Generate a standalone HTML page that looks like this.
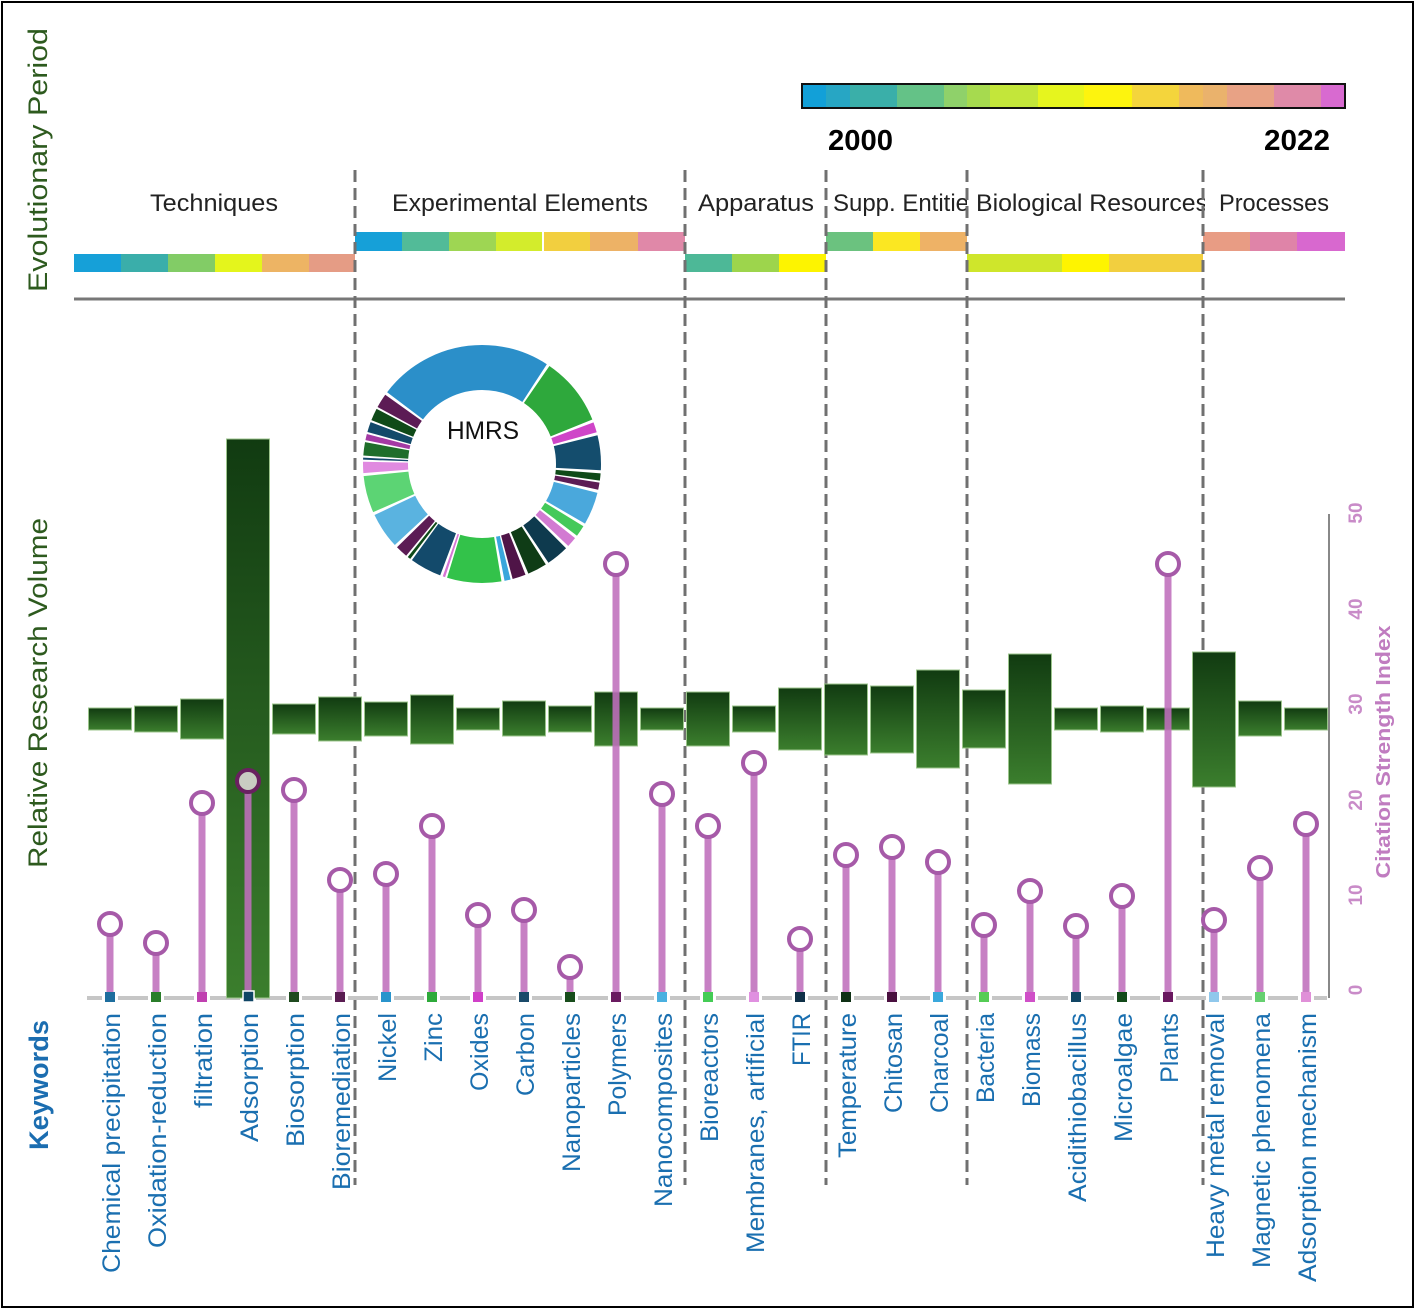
<!DOCTYPE html>
<html><head><meta charset="utf-8"><style>
html,body{margin:0;padding:0;background:#fff;}
svg{display:block;}
text{font-family:"Liberation Sans",sans-serif;}
</style></head><body>
<svg width="1416" height="1310" viewBox="0 0 1416 1310" xmlns="http://www.w3.org/2000/svg">
<defs>
<linearGradient id="gb" x1="0" y1="0" x2="0" y2="1">
<stop offset="0" stop-color="#113b11"/><stop offset="1" stop-color="#3b7e2d"/>
</linearGradient>
<clipPath id="c1"><rect x="826" y="180" width="141" height="40"/></clipPath>
<clipPath id="c2"><rect x="967" y="180" width="238" height="40"/></clipPath>
</defs>
<rect x="0" y="0" width="1416" height="1310" fill="#fff"/>
<rect x="2" y="2" width="1411" height="1305" fill="none" stroke="#000" stroke-width="2"/>

<!-- color bar -->
<g>
<rect x="802" y="84" width="24" height="24" fill="#12a0d8"/>
<rect x="826" y="84" width="24" height="24" fill="#27a6c4"/>
<rect x="850" y="84" width="47" height="24" fill="#3aafa9"/>
<rect x="897" y="84" width="47" height="24" fill="#64c287"/>
<rect x="944" y="84" width="23" height="24" fill="#8fd16a"/>
<rect x="967" y="84" width="23" height="24" fill="#a6da4f"/>
<rect x="990" y="84" width="48" height="24" fill="#c3e63a"/>
<rect x="1038" y="84" width="46" height="24" fill="#e6f51e"/>
<rect x="1084" y="84" width="48" height="24" fill="#fdf40e"/>
<rect x="1132" y="84" width="47" height="24" fill="#f4d53c"/>
<rect x="1179" y="84" width="24" height="24" fill="#efba5c"/>
<rect x="1203" y="84" width="24" height="24" fill="#eab26c"/>
<rect x="1227" y="84" width="47" height="24" fill="#e8a285"/>
<rect x="1274" y="84" width="47" height="24" fill="#df8aa8"/>
<rect x="1321" y="84" width="24" height="24" fill="#d86ad0"/>
<rect x="802" y="84" width="543" height="24" fill="none" stroke="#111" stroke-width="2"/>
</g>
<text x="828" y="150" font-size="29" font-weight="bold" fill="#000" textLength="65" lengthAdjust="spacingAndGlyphs">2000</text>
<text x="1264" y="150" font-size="29" font-weight="bold" fill="#000" textLength="66" lengthAdjust="spacingAndGlyphs">2022</text>

<!-- left titles -->
<text transform="translate(47,160) rotate(-90)" text-anchor="middle" font-size="27" fill="#2d5a1e" textLength="264" lengthAdjust="spacingAndGlyphs">Evolutionary Period</text>
<text transform="translate(47,693) rotate(-90)" text-anchor="middle" font-size="27" fill="#2d5a1e" textLength="350" lengthAdjust="spacingAndGlyphs">Relative Research Volume</text>
<text transform="translate(48,1085) rotate(-90)" text-anchor="middle" font-size="27" font-weight="bold" fill="#1b6db0" textLength="130" lengthAdjust="spacingAndGlyphs">Keywords</text>

<!-- category headers -->
<g font-size="24" fill="#222">
<text x="150" y="211" textLength="128" lengthAdjust="spacingAndGlyphs">Techniques</text>
<text x="392" y="211" textLength="256" lengthAdjust="spacingAndGlyphs">Experimental Elements</text>
<text x="698" y="211" textLength="116" lengthAdjust="spacingAndGlyphs">Apparatus</text>
<text x="833" y="211" textLength="148" lengthAdjust="spacingAndGlyphs" clip-path="url(#c1)">Supp. Entities</text>
<text x="976" y="211" textLength="232" lengthAdjust="spacingAndGlyphs" clip-path="url(#c2)">Biological Resources</text>
<text x="1219" y="211" textLength="110" lengthAdjust="spacingAndGlyphs">Processes</text>
</g>

<!-- strips -->
<g>
<rect x="74" y="254" width="47" height="18" fill="#16a0d8"/>
<rect x="121" y="254" width="47" height="18" fill="#3aaeaa"/>
<rect x="168" y="254" width="47" height="18" fill="#82cc66"/>
<rect x="215" y="254" width="47" height="18" fill="#e4f51c"/>
<rect x="262" y="254" width="47" height="18" fill="#edb464"/>
<rect x="309" y="254" width="46" height="18" fill="#e59c85"/>

<rect x="355" y="232" width="47" height="19" fill="#16a0d8"/>
<rect x="402" y="232" width="47" height="19" fill="#52bb98"/>
<rect x="449" y="232" width="47" height="19" fill="#9ed653"/>
<rect x="496" y="232" width="46" height="19" fill="#d3ec2c"/>
<rect x="544" y="232" width="46" height="19" fill="#f2cf3f"/>
<rect x="590" y="232" width="48" height="19" fill="#edb266"/>
<rect x="638" y="232" width="47" height="19" fill="#e088a8"/>

<rect x="685" y="254" width="47" height="18" fill="#4db897"/>
<rect x="732" y="254" width="47" height="18" fill="#9dd54c"/>
<rect x="779" y="254" width="47" height="18" fill="#fdf400"/>

<rect x="826" y="232" width="47" height="19" fill="#6bc27f"/>
<rect x="873" y="232" width="47" height="19" fill="#fbe722"/>
<rect x="920" y="232" width="47" height="19" fill="#eeb266"/>

<rect x="967" y="254" width="95" height="18" fill="#cfe62b"/>
<rect x="1062" y="254" width="47" height="18" fill="#fef400"/>
<rect x="1109" y="254" width="94" height="18" fill="#f2cf3f"/>

<rect x="1203" y="232" width="47" height="19" fill="#e89c84"/>
<rect x="1250" y="232" width="47" height="19" fill="#df84a8"/>
<rect x="1297" y="232" width="48" height="19" fill="#d868cf"/>
</g>

<line x1="74" y1="299" x2="1345" y2="299" stroke="#777" stroke-width="3"/>

<!-- dashed separators -->
<g stroke="#707070" stroke-width="3" stroke-dasharray="12 6">
<line x1="355" y1="170" x2="355" y2="1185"/>
<line x1="685" y1="170" x2="685" y2="1185"/>
<line x1="826" y1="170" x2="826" y2="1185"/>
<line x1="967" y1="170" x2="967" y2="1185"/>
<line x1="1203" y1="170" x2="1203" y2="1185"/>
</g>

<!-- donut -->
<g transform="rotate(-90 482 464)" fill="none" stroke-width="45">
<circle cx="482" cy="464" r="96.5" stroke="#2b8fc9" stroke-dasharray="144.85 461.48" stroke-dashoffset="-517.06"/>
<circle cx="482" cy="464" r="96.5" stroke="#2ea83c" stroke-dasharray="56.42 549.91" stroke-dashoffset="-58.11"/>
<circle cx="482" cy="464" r="96.5" stroke="#cf45c8" stroke-dasharray="8.42 597.91" stroke-dashoffset="-117.06"/>
<circle cx="482" cy="464" r="96.5" stroke="#144d6d" stroke-dasharray="28.63 577.7" stroke-dashoffset="-128"/>
<circle cx="482" cy="464" r="96.5" stroke="#0f4a18" stroke-dasharray="5.89 600.44" stroke-dashoffset="-159.16"/>
<circle cx="482" cy="464" r="96.5" stroke="#5c1c55" stroke-dasharray="5.89 600.44" stroke-dashoffset="-166.74"/>
<circle cx="482" cy="464" r="96.5" stroke="#4aa8dc" stroke-dasharray="26.95 579.38" stroke-dashoffset="-175.16"/>
<circle cx="482" cy="464" r="96.5" stroke="#44c95a" stroke-dasharray="9.26 597.07" stroke-dashoffset="-204.64"/>
<circle cx="482" cy="464" r="96.5" stroke="#d27ad2" stroke-dasharray="8.42 597.91" stroke-dashoffset="-216.43"/>
<circle cx="482" cy="464" r="96.5" stroke="#0e3a4e" stroke-dasharray="18.53 587.8" stroke-dashoffset="-227.37"/>
<circle cx="482" cy="464" r="96.5" stroke="#0f3c16" stroke-dasharray="16 590.33" stroke-dashoffset="-248.43"/>
<circle cx="482" cy="464" r="96.5" stroke="#4f1447" stroke-dasharray="10.95 595.38" stroke-dashoffset="-266.95"/>
<circle cx="482" cy="464" r="96.5" stroke="#3aa6dc" stroke-dasharray="5.05 601.28" stroke-dashoffset="-279.59"/>
<circle cx="482" cy="464" r="96.5" stroke="#33c24a" stroke-dasharray="44.63 561.7" stroke-dashoffset="-287.17"/>
<circle cx="482" cy="464" r="96.5" stroke="#d474d4" stroke-dasharray="2.02 604.31" stroke-dashoffset="-333.48"/>
<circle cx="482" cy="464" r="96.5" stroke="#134a6b" stroke-dasharray="26.11 580.22" stroke-dashoffset="-337.69"/>
<circle cx="482" cy="464" r="96.5" stroke="#0f4a18" stroke-dasharray="2.53 603.8" stroke-dashoffset="-365.48"/>
<circle cx="482" cy="464" r="96.5" stroke="#5c1c55" stroke-dasharray="10.11 596.22" stroke-dashoffset="-369.69"/>
<circle cx="482" cy="464" r="96.5" stroke="#5ab3e0" stroke-dasharray="29.47 576.86" stroke-dashoffset="-382.32"/>
<circle cx="482" cy="464" r="96.5" stroke="#5cd474" stroke-dasharray="30.32 576.01" stroke-dashoffset="-414.33"/>
<circle cx="482" cy="464" r="96.5" stroke="#e08ae0" stroke-dasharray="9.26 597.07" stroke-dashoffset="-447.17"/>
<circle cx="482" cy="464" r="96.5" stroke="#14486a" stroke-dasharray="1.68 604.65" stroke-dashoffset="-458.12"/>
<circle cx="482" cy="464" r="96.5" stroke="#1f6e2a" stroke-dasharray="10.95 595.38" stroke-dashoffset="-461.48"/>
<circle cx="482" cy="464" r="96.5" stroke="#a43aa4" stroke-dasharray="5.05 601.28" stroke-dashoffset="-474.12"/>
<circle cx="482" cy="464" r="96.5" stroke="#134a6a" stroke-dasharray="8.42 597.91" stroke-dashoffset="-480.85"/>
<circle cx="482" cy="464" r="96.5" stroke="#0f4a18" stroke-dasharray="10.11 596.22" stroke-dashoffset="-490.96"/>
<circle cx="482" cy="464" r="96.5" stroke="#5c1c55" stroke-dasharray="11.79 594.54" stroke-dashoffset="-502.75"/>
</g>
<text x="483" y="439" text-anchor="middle" font-size="25" fill="#111" textLength="72" lengthAdjust="spacingAndGlyphs">HMRS</text>

<!-- baseline -->
<line x1="87" y1="998" x2="1327" y2="998" stroke="#c6c6c6" stroke-width="4" stroke-dasharray="30 16" stroke-dashoffset="15"/>

<!-- bars -->
<g fill="url(#gb)" stroke="#9cc58c" stroke-width="1">
<rect x="88.5" y="708" width="43" height="22"/>
<rect x="134.5" y="706" width="43" height="26"/>
<rect x="180.5" y="699" width="43" height="40"/>
<rect x="226.5" y="439" width="43" height="559"/>
<rect x="272.5" y="704" width="43" height="30"/>
<rect x="318.5" y="697" width="43" height="44"/>
<rect x="364.5" y="702" width="43" height="34"/>
<rect x="410.5" y="695" width="43" height="49"/>
<rect x="456.5" y="708" width="43" height="22"/>
<rect x="502.5" y="701" width="43" height="35"/>
<rect x="548.5" y="706" width="43" height="26"/>
<rect x="594.5" y="692" width="43" height="54"/>
<rect x="640.5" y="708" width="43" height="22"/>
<rect x="686.5" y="692" width="43" height="54"/>
<rect x="732.5" y="706" width="43" height="26"/>
<rect x="778.5" y="688" width="43" height="62"/>
<rect x="824.5" y="684" width="43" height="71"/>
<rect x="870.5" y="686" width="43" height="67"/>
<rect x="916.5" y="670" width="43" height="98"/>
<rect x="962.5" y="690" width="43" height="58"/>
<rect x="1008.5" y="654" width="43" height="130"/>
<rect x="1054.5" y="708" width="43" height="22"/>
<rect x="1100.5" y="706" width="43" height="26"/>
<rect x="1146.5" y="708" width="43" height="22"/>
<rect x="1192.5" y="652" width="43" height="135"/>
<rect x="1238.5" y="701" width="43" height="35"/>
<rect x="1284.5" y="708" width="43" height="22"/>
</g>

<!-- lollipop stems -->
<g stroke="#c06fbd" stroke-width="7" opacity="0.88">
<line x1="110" y1="994" x2="110" y2="924"/>
<line x1="156" y1="994" x2="156" y2="943"/>
<line x1="202" y1="994" x2="202" y2="803"/>
<line x1="248" y1="994" x2="248" y2="781"/>
<line x1="294" y1="994" x2="294" y2="790"/>
<line x1="340" y1="994" x2="340" y2="880"/>
<line x1="386" y1="994" x2="386" y2="874"/>
<line x1="432" y1="994" x2="432" y2="826"/>
<line x1="478" y1="994" x2="478" y2="915"/>
<line x1="524" y1="994" x2="524" y2="910"/>
<line x1="570" y1="994" x2="570" y2="967"/>
<line x1="616" y1="994" x2="616" y2="564"/>
<line x1="662" y1="994" x2="662" y2="794"/>
<line x1="708" y1="994" x2="708" y2="826"/>
<line x1="754" y1="994" x2="754" y2="763"/>
<line x1="800" y1="994" x2="800" y2="939"/>
<line x1="846" y1="994" x2="846" y2="855"/>
<line x1="892" y1="994" x2="892" y2="847"/>
<line x1="938" y1="994" x2="938" y2="862"/>
<line x1="984" y1="994" x2="984" y2="925"/>
<line x1="1030" y1="994" x2="1030" y2="891"/>
<line x1="1076" y1="994" x2="1076" y2="926"/>
<line x1="1122" y1="994" x2="1122" y2="896"/>
<line x1="1168" y1="994" x2="1168" y2="564"/>
<line x1="1214" y1="994" x2="1214" y2="920"/>
<line x1="1260" y1="994" x2="1260" y2="868"/>
<line x1="1306" y1="994" x2="1306" y2="824"/>
</g>
<g fill="#fff" stroke="#a65aa8" stroke-width="4">
<circle cx="110" cy="924" r="11"/>
<circle cx="156" cy="943" r="11"/>
<circle cx="202" cy="803" r="11"/>
<circle cx="248" cy="781" r="11" fill="#c9ccc2" stroke="#6a2060"/>
<circle cx="294" cy="790" r="11"/>
<circle cx="340" cy="880" r="11"/>
<circle cx="386" cy="874" r="11"/>
<circle cx="432" cy="826" r="11"/>
<circle cx="478" cy="915" r="11"/>
<circle cx="524" cy="910" r="11"/>
<circle cx="570" cy="967" r="11"/>
<circle cx="616" cy="564" r="11"/>
<circle cx="662" cy="794" r="11"/>
<circle cx="708" cy="826" r="11"/>
<circle cx="754" cy="763" r="11"/>
<circle cx="800" cy="939" r="11"/>
<circle cx="846" cy="855" r="11"/>
<circle cx="892" cy="847" r="11"/>
<circle cx="938" cy="862" r="11"/>
<circle cx="984" cy="925" r="11"/>
<circle cx="1030" cy="891" r="11"/>
<circle cx="1076" cy="926" r="11"/>
<circle cx="1122" cy="896" r="11"/>
<circle cx="1168" cy="564" r="11"/>
<circle cx="1214" cy="920" r="11"/>
<circle cx="1260" cy="868" r="11"/>
<circle cx="1306" cy="824" r="11"/>
</g>

<!-- markers -->
<g>
<rect x="105" y="992" width="10" height="10" fill="#1e6e9e"/>
<rect x="151" y="992" width="10" height="10" fill="#2a7d2a"/>
<rect x="197" y="992" width="10" height="10" fill="#c040b0"/>
<rect x="243" y="991" width="11" height="11" fill="#0f4565" stroke="#fff" stroke-width="1.5"/>
<rect x="289" y="992" width="10" height="10" fill="#1f4a1f"/>
<rect x="335" y="992" width="10" height="10" fill="#5a1d52"/>
<rect x="381" y="992" width="10" height="10" fill="#2a94cc"/>
<rect x="427" y="992" width="10" height="10" fill="#2eaa3a"/>
<rect x="473" y="992" width="10" height="10" fill="#d040c8"/>
<rect x="519" y="992" width="10" height="10" fill="#1a4a6a"/>
<rect x="565" y="992" width="10" height="10" fill="#184d1c"/>
<rect x="611" y="992" width="10" height="10" fill="#6a1a60"/>
<rect x="657" y="992" width="10" height="10" fill="#4ab0e0"/>
<rect x="703" y="992" width="10" height="10" fill="#44cc55"/>
<rect x="749" y="992" width="10" height="10" fill="#e090e0"/>
<rect x="795" y="992" width="10" height="10" fill="#0f3048"/>
<rect x="841" y="992" width="10" height="10" fill="#0f3015"/>
<rect x="887" y="992" width="10" height="10" fill="#4a1040"/>
<rect x="933" y="992" width="10" height="10" fill="#3aa8dc"/>
<rect x="979" y="992" width="10" height="10" fill="#55cc55"/>
<rect x="1025" y="992" width="10" height="10" fill="#d050c8"/>
<rect x="1071" y="992" width="10" height="10" fill="#114565"/>
<rect x="1117" y="992" width="10" height="10" fill="#134a1a"/>
<rect x="1163" y="992" width="10" height="10" fill="#6a1860"/>
<rect x="1209" y="992" width="10" height="10" fill="#90c8ec"/>
<rect x="1255" y="992" width="10" height="10" fill="#66d070"/>
<rect x="1301" y="992" width="10" height="10" fill="#e090d8"/>
</g>

<!-- right axis -->
<line x1="1329" y1="514" x2="1329" y2="998" stroke="#888" stroke-width="2"/>
<g font-size="19" font-weight="bold" fill="#c98bc8" text-anchor="middle">
<text transform="translate(1362,513) rotate(-90)">50</text>
<text transform="translate(1362,609) rotate(-90)">40</text>
<text transform="translate(1362,704) rotate(-90)">30</text>
<text transform="translate(1362,800) rotate(-90)">20</text>
<text transform="translate(1362,895) rotate(-90)">10</text>
<text transform="translate(1362,990) rotate(-90)">0</text>
</g>
<text transform="translate(1390,752) rotate(-90)" text-anchor="middle" font-size="20" font-weight="bold" fill="#c07cc0" textLength="253" lengthAdjust="spacingAndGlyphs">Citation Strength Index</text>

<!-- keyword labels -->
<g font-size="25" fill="#1a6fb0" text-anchor="end">
<text transform="translate(120,1013) rotate(-90)" textLength="260" lengthAdjust="spacingAndGlyphs">Chemical precipitation</text>
<text transform="translate(166,1013) rotate(-90)" textLength="235" lengthAdjust="spacingAndGlyphs">Oxidation-reduction</text>
<text transform="translate(212,1013) rotate(-90)" textLength="95" lengthAdjust="spacingAndGlyphs">filtration</text>
<text transform="translate(258,1013) rotate(-90)" textLength="129" lengthAdjust="spacingAndGlyphs">Adsorption</text>
<text transform="translate(304,1013) rotate(-90)" textLength="134" lengthAdjust="spacingAndGlyphs">Biosorption</text>
<text transform="translate(350,1013) rotate(-90)" textLength="177" lengthAdjust="spacingAndGlyphs">Bioremediation</text>
<text transform="translate(396,1013) rotate(-90)" textLength="69" lengthAdjust="spacingAndGlyphs">Nickel</text>
<text transform="translate(442,1013) rotate(-90)" textLength="49" lengthAdjust="spacingAndGlyphs">Zinc</text>
<text transform="translate(488,1013) rotate(-90)" textLength="78" lengthAdjust="spacingAndGlyphs">Oxides</text>
<text transform="translate(534,1013) rotate(-90)" textLength="83" lengthAdjust="spacingAndGlyphs">Carbon</text>
<text transform="translate(580,1013) rotate(-90)" textLength="159" lengthAdjust="spacingAndGlyphs">Nanoparticles</text>
<text transform="translate(626,1013) rotate(-90)" textLength="103" lengthAdjust="spacingAndGlyphs">Polymers</text>
<text transform="translate(672,1013) rotate(-90)" textLength="194" lengthAdjust="spacingAndGlyphs">Nanocomposites</text>
<text transform="translate(718,1013) rotate(-90)" textLength="129" lengthAdjust="spacingAndGlyphs">Bioreactors</text>
<text transform="translate(764,1013) rotate(-90)" textLength="240" lengthAdjust="spacingAndGlyphs">Membranes, artificial</text>
<text transform="translate(810,1013) rotate(-90)" textLength="53" lengthAdjust="spacingAndGlyphs">FTIR</text>
<text transform="translate(856,1013) rotate(-90)" textLength="145" lengthAdjust="spacingAndGlyphs">Temperature</text>
<text transform="translate(902,1013) rotate(-90)" textLength="100" lengthAdjust="spacingAndGlyphs">Chitosan</text>
<text transform="translate(948,1013) rotate(-90)" textLength="100" lengthAdjust="spacingAndGlyphs">Charcoal</text>
<text transform="translate(994,1013) rotate(-90)" textLength="90" lengthAdjust="spacingAndGlyphs">Bacteria</text>
<text transform="translate(1040,1013) rotate(-90)" textLength="94" lengthAdjust="spacingAndGlyphs">Biomass</text>
<text transform="translate(1086,1013) rotate(-90)" textLength="189" lengthAdjust="spacingAndGlyphs">Acidithiobacillus</text>
<text transform="translate(1132,1013) rotate(-90)" textLength="129" lengthAdjust="spacingAndGlyphs">Microalgae</text>
<text transform="translate(1178,1013) rotate(-90)" textLength="70" lengthAdjust="spacingAndGlyphs">Plants</text>
<text transform="translate(1224,1013) rotate(-90)" textLength="245" lengthAdjust="spacingAndGlyphs">Heavy metal removal</text>
<text transform="translate(1270,1013) rotate(-90)" textLength="255" lengthAdjust="spacingAndGlyphs">Magnetic phenomena</text>
<text transform="translate(1316,1013) rotate(-90)" textLength="269" lengthAdjust="spacingAndGlyphs">Adsorption mechanism</text>
</g>
</svg>
</body></html>
